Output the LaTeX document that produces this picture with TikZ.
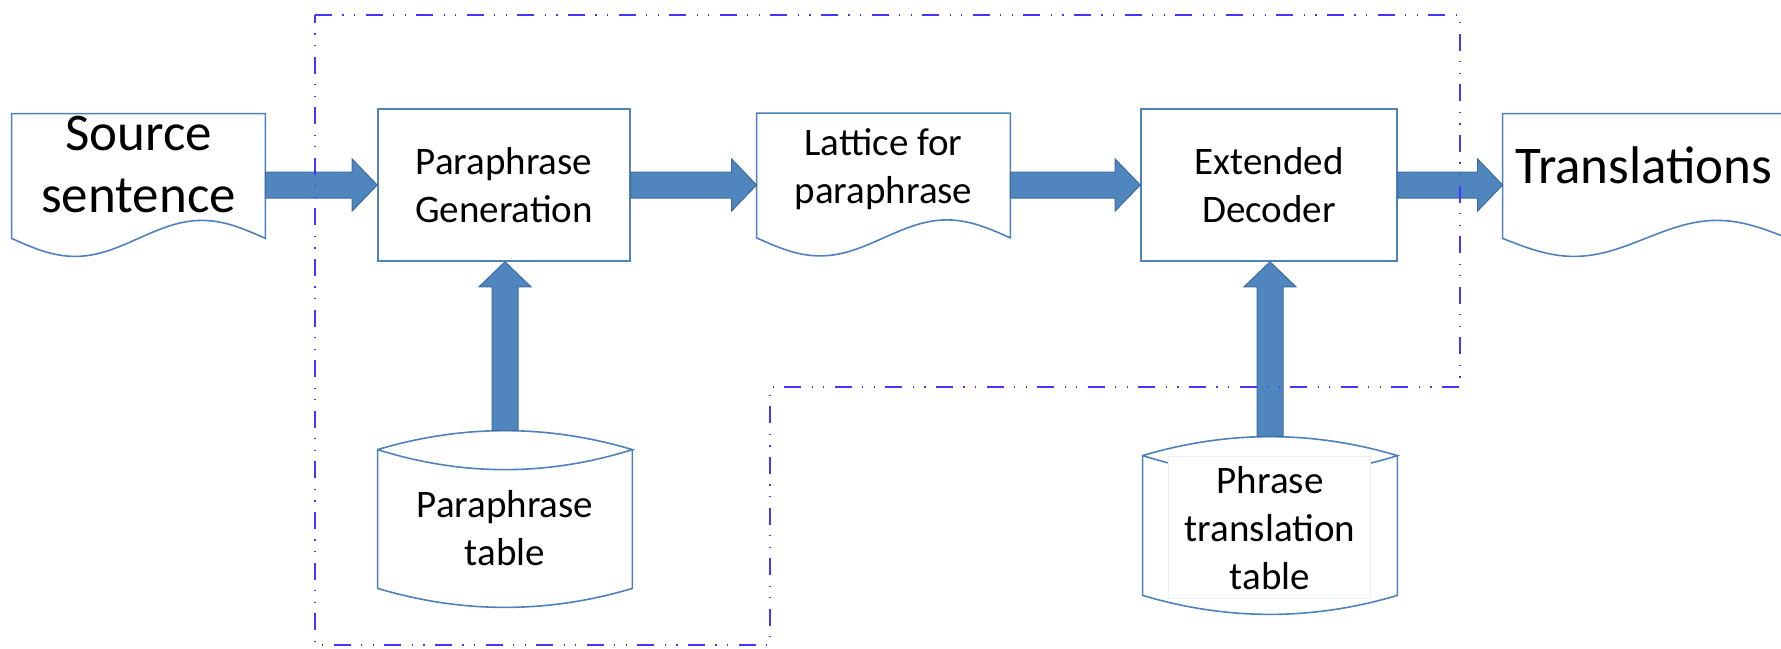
\documentclass[tikz,border=0pt]{standalone}
\usepackage{fontspec}
\setmainfont{Carlito}
\usetikzlibrary{calc}
\definecolor{shapeblue}{RGB}{79,129,189}
\definecolor{arrowblue}{RGB}{80,134,190}
\definecolor{arrowedge}{RGB}{62,108,160}
\definecolor{regionblue}{RGB}{72,52,255}
\tikzset{
  procbox/.style={draw=shapeblue, line width=0.8pt, minimum width=126pt, minimum height=76pt, inner sep=0pt},
  docframe/.style={inner sep=0pt, minimum width=126.5pt, minimum height=62pt},
  cylframe/.style={inner sep=0pt, minimum width=127pt, minimum height=69pt},
  shapeline/.style={draw=shapeblue, line width=0.8pt, line join=miter},
  txt/.style={anchor=base, inner sep=0pt, font=\fontsize{19.5}{24}\selectfont},
  bigtxt/.style={anchor=base, inner sep=0pt, font=\fontsize{26.5}{31}\selectfont},
  blockarrow/.style={fill=arrowblue, draw=arrowedge, line width=0.5pt, line join=miter},
  regionline/.style={draw=regionblue, line width=1pt,
    dash pattern=on 8.5pt off 5.2pt on 0.6pt off 5.2pt on 0.6pt off 5.2pt},
}
% document shape: straight top and sides, wavy bottom
\newcommand\docoutline[1]{%
  \draw[shapeline] (#1.south west) -- (#1.north west) -- (#1.north east) -- (#1.south east)
    sin ($(#1.south east)!0.25!(#1.south west)+(0,-18)$)
    cos ($(#1.south east)!0.5!(#1.south west)$)
    sin ($(#1.south east)!0.75!(#1.south west)+(0,18)$)
    cos (#1.south west) -- cycle;}
% storage cylinder drawn around a rectangular frame node (arcs as parabolic curves)
\newcommand\cyloutline[1]{%
  \draw[shapeline] (#1.north west)
    .. controls ($(#1.north west)!1/3!(#1.north east)+(0,-25.3)$)
           and ($(#1.north west)!2/3!(#1.north east)+(0,-25.3)$) .. (#1.north east)
    .. controls ($(#1.north west)!2/3!(#1.north east)+(0,26.7)$)
           and ($(#1.north west)!1/3!(#1.north east)+(0,26.7)$) .. (#1.north west)
    -- (#1.south west)
    .. controls ($(#1.south west)!1/3!(#1.south east)+(0,25.3)$)
           and ($(#1.south west)!2/3!(#1.south east)+(0,25.3)$) .. (#1.south east)
    -- (#1.north east);}
% block arrows
\newcommand\harrow[2]{%
  \filldraw[blockarrow] let \p1=(#1), \p2=(#2) in
    (\x1,\y2+6.5pt) -- (\x2-12.5pt,\y2+6.5pt) -- (\x2-12.5pt,\y2+13pt) -- (\x2,\y2)
    -- (\x2-12.5pt,\y2-13pt) -- (\x2-12.5pt,\y2-6.5pt) -- (\x1,\y2-6.5pt) -- cycle;}
\newcommand\varrow[2]{%
  \filldraw[blockarrow] let \p1=(#1), \p2=(#2) in
    (\x2-6.5pt,\y1) -- (\x2-6.5pt,\y2-12.5pt) -- (\x2-13pt,\y2-12.5pt) -- (\x2,\y2)
    -- (\x2+13pt,\y2-12.5pt) -- (\x2+6.5pt,\y2-12.5pt) -- (\x2+6.5pt,\y1) -- cycle;}

\begin{document}
\begin{tikzpicture}[x=0.5pt,y=-0.5pt]
\useasboundingbox (0,0) rectangle (1781,648);

% frames of the shapes
\node[docframe] (src) at (138.5,176) {};
\node[procbox] (pg) at (504,185) {};
\node[docframe] (lat) at (883.5,175.5) {};
\node[procbox, minimum width=128pt] (dec) at (1269,185) {};
\node[docframe, minimum width=142.5pt] (tr) at (1645.5,176) {};
\node[cylframe] (ptab) at (505,519) {};
\node[cylframe, minimum height=69.5pt] (ttab) at (1270,525.5) {};

\docoutline{src}
\docoutline{lat}
\docoutline{tr}
\cyloutline{ptab}
\cyloutline{ttab}
\node[fill=white, draw=shapeblue!12, line width=0.5pt, minimum width=101pt,
      minimum height=71pt, inner sep=0pt] (ttabbg) at (1269,527) {};

% texts
\node[bigtxt] (srct) at (138.5,150) {\begin{tabular}[t]{@{}c@{}}Source\\sentence\end{tabular}};
\node[txt] (pgt) at (504,174) {\begin{tabular}[t]{@{}c@{}}Paraphrase\\Generation\end{tabular}};
\node[txt] (latt) at (883.5,155) {\begin{tabular}[t]{@{}c@{}}Lattice for\\paraphrase\end{tabular}};
\node[txt] (dect) at (1269,174) {\begin{tabular}[t]{@{}c@{}}Extended\\Decoder\end{tabular}};
\node[bigtxt] (trt) at (1644,183) {Translations};
\node[txt] (ptabt) at (505,517) {\begin{tabular}[t]{@{}c@{}}Paraphrase\\table\end{tabular}};
\node[txt] (ttabt) at (1270,493) {\begin{tabular}[t]{@{}c@{}}Phrase\\translation\\table\end{tabular}};

% flow arrows
\harrow{src.east |- pg.west}{pg.west}
\harrow{pg.east}{lat.west |- pg.east}
\harrow{lat.east |- dec.west}{dec.west}
\harrow{dec.east}{tr.west |- dec.east}
\varrow{$(ptab.north)+(0,-19)$}{ptab.north |- pg.south}
\varrow{$(ttab.north)+(0,-19)$}{ttab.north |- dec.south}

% system boundary
\draw[regionline] (315,15) -- (1460,15) -- (1460,387) -- (770,387) -- (770,645) -- (315,645) -- cycle;
\end{tikzpicture}
\end{document}
